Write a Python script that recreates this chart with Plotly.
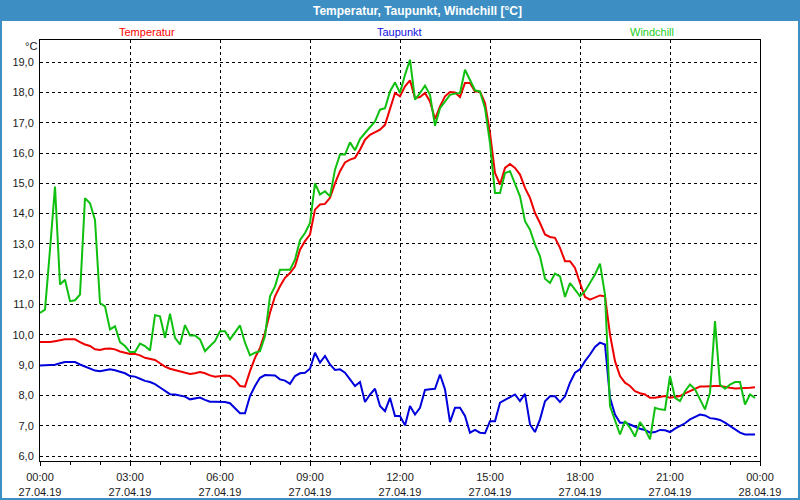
import pandas as pd
import plotly.graph_objects as go

# ---- data (10-minute readings, 27.04.19 00:00 .. 23:50) ----
start_time = "2019-04-27 00:00"
n_points = 144
step = "10min"

temperatur = [
    9.76, 9.76, 9.76, 9.79, 9.82, 9.85, 9.85, 9.85, 9.76, 9.68, 9.63, 9.52,
    9.50, 9.54, 9.55, 9.52, 9.45, 9.41, 9.37, 9.37, 9.32, 9.24, 9.21, 9.17,
    9.06, 8.95, 8.88, 8.84, 8.80, 8.75, 8.71, 8.73, 8.77, 8.73, 8.66, 8.62,
    8.64, 8.66, 8.64, 8.51, 8.31, 8.29, 8.80, 9.24, 9.57, 10.07, 10.73, 11.27,
    11.60, 11.88, 12.04, 12.26, 12.81, 13.09, 13.31, 14.13, 14.30, 14.32, 14.52, 15.00,
    15.40, 15.69, 15.78, 15.84, 16.11, 16.44, 16.60, 16.68, 16.77, 16.93, 17.43, 17.98,
    17.87, 18.20, 18.40, 17.81, 17.85, 17.98, 17.70, 17.12, 17.54, 17.87, 18.01, 18.00,
    17.85, 18.31, 18.31, 18.03, 18.03, 17.65, 16.66, 15.34, 14.96, 15.51, 15.64, 15.51,
    15.29, 14.85, 14.52, 14.02, 13.69, 13.31, 13.23, 13.20, 12.87, 12.43, 12.43, 12.21,
    11.71, 11.25, 11.16, 11.22, 11.30, 11.27, 10.01, 9.13, 8.64, 8.42, 8.31, 8.14,
    8.07, 8.03, 7.92, 7.92, 7.96, 7.98, 7.92, 7.96, 7.98, 8.07, 8.14, 8.20,
    8.29, 8.29, 8.31, 8.31, 8.31, 8.27, 8.25, 8.23, 8.23, 8.25, 8.25, 8.27,
]

taupunkt = [
    8.99, 8.99, 8.99, 9.01, 9.06, 9.10, 9.10, 9.10, 9.02, 8.95, 8.88, 8.82,
    8.80, 8.84, 8.86, 8.83, 8.78, 8.73, 8.64, 8.62, 8.55, 8.48, 8.44, 8.37,
    8.26, 8.15, 8.04, 8.03, 8.00, 7.96, 7.87, 7.89, 7.93, 7.85, 7.79, 7.79,
    7.78, 7.78, 7.74, 7.56, 7.41, 7.41, 7.98, 8.31, 8.58, 8.67, 8.67, 8.66,
    8.53, 8.49, 8.38, 8.64, 8.73, 8.75, 8.88, 9.41, 9.08, 9.30, 9.02, 8.84,
    8.86, 8.75, 8.53, 8.31, 8.44, 7.78, 8.03, 8.22, 7.65, 7.48, 7.92, 7.32,
    7.32, 7.01, 7.65, 7.37, 7.59, 8.18, 8.20, 8.22, 8.69, 8.20, 7.12, 7.59,
    7.59, 7.32, 6.77, 6.86, 6.77, 6.75, 7.15, 7.15, 7.76, 7.85, 7.92, 8.03,
    7.81, 8.05, 7.04, 6.79, 7.21, 7.81, 7.97, 7.97, 7.78, 7.97, 8.42, 8.75,
    8.86, 9.13, 9.35, 9.60, 9.74, 9.68, 7.92, 7.37, 7.10, 7.10, 7.04, 6.97,
    6.90, 6.86, 6.77, 6.79, 6.86, 6.85, 6.79, 6.90, 6.99, 7.08, 7.21, 7.30,
    7.37, 7.34, 7.25, 7.23, 7.19, 7.10, 6.99, 6.86, 6.77, 6.71, 6.71, 6.71,
]

windchill = [
    10.72, 10.83, 12.81, 14.89, 11.66, 11.82, 11.11, 11.14, 11.33, 14.51, 14.34, 13.79,
    11.05, 10.94, 10.18, 10.28, 9.76, 9.63, 9.43, 9.43, 9.71, 9.63, 9.48, 10.65,
    10.61, 9.90, 10.70, 9.90, 9.68, 10.32, 9.98, 9.98, 9.85, 9.46, 9.63, 9.79,
    10.12, 10.12, 9.85, 10.07, 10.31, 9.74, 9.32, 9.41, 9.46, 9.96, 11.27, 11.60,
    12.15, 12.15, 12.15, 12.48, 13.12, 13.36, 13.69, 15.00, 14.63, 14.74, 14.57, 15.45,
    15.95, 15.95, 16.35, 16.09, 16.46, 16.66, 16.86, 17.04, 17.43, 17.48, 18.03, 18.33,
    17.98, 18.58, 19.08, 17.76, 17.98, 18.22, 17.92, 16.90, 17.48, 17.70, 17.92, 17.96,
    17.98, 18.75, 18.42, 18.07, 18.03, 17.48, 16.33, 14.68, 14.68, 15.34, 15.40, 15.00,
    14.57, 13.75, 13.47, 12.98, 12.59, 11.85, 11.71, 12.02, 11.93, 11.25, 11.71, 11.49,
    11.27, 11.44, 11.71, 11.99, 12.35, 11.33, 7.65, 7.21, 6.71, 7.15, 6.93, 6.64,
    7.12, 6.88, 6.55, 7.59, 7.54, 7.52, 8.64, 7.92, 7.81, 8.14, 8.36, 8.20,
    7.87, 7.54, 8.09, 10.45, 8.36, 8.22, 8.36, 8.44, 8.44, 7.70, 8.03, 7.92,
]

series_names = ["Temperatur", "Taupunkt", "Windchill"]
series_colors = ["#ee0000", "#0000dd", "#10c010"]
label_colors = ["#ff0000", "#1010e0", "#22cc22"]

title_text = "Temperatur, Taupunkt, Windchill [°C]"
unit_text = "°C"
x_start, x_end = "2019-04-27 00:00", "2019-04-28 00:00"
y_min, y_max = 5.835, 19.73

# ---- layout geometry (pixels) ----
W, H = 800, 500
L, R, T, B = 40, 40, 40, 39
PW, PH = W - L - R, H - T - B


def xp(px):
    return (px - L) / PW


def yp(py):
    return (H - B - py) / PH


times = pd.date_range(start_time, periods=n_points, freq=step)

fig = go.Figure()
for name, vals, col in zip(series_names, [temperatur, taupunkt, windchill], series_colors):
    fig.add_trace(go.Scatter(x=times, y=vals, mode="lines", name=name,
                             line=dict(color=col, width=2), showlegend=False))

FONT = "Liberation Sans, Arial, sans-serif"
BLUE = "#3d8fc3"
GRID = dict(showgrid=True, gridcolor="#000000", gridwidth=1, griddash="3px,3px")

fig.update_layout(
    width=W, height=H,
    margin=dict(l=L, r=R, t=T, b=B, pad=0, autoexpand=False),
    paper_bgcolor="#ffffff", plot_bgcolor="#ffffff",
    separators=",.",
    font=dict(family=FONT, size=11, color="#1a1a1a"),
    xaxis=dict(
        type="date", range=[x_start, x_end], automargin=False,
        tick0=x_start, dtick=3 * 3600 * 1000,
        tickformat="%H:%M<br>%d.%m.%y",
        ticks="outside", ticklen=4, tickcolor="#000000",
        minor=dict(dtick=3600 * 1000, ticks="outside", ticklen=3, tickcolor="#000000", showgrid=False),
        showline=True, linecolor="#000000", linewidth=1, mirror=True,
        zeroline=False, ticklabelstandoff=2,
        **GRID,
    ),
    yaxis=dict(
        range=[y_min, y_max], tick0=6, dtick=1, tickformat=".1f", automargin=False,
        ticks="", showline=True, linecolor="#000000", linewidth=1, mirror=True,
        zeroline=False, ticklabelstandoff=3,
        **GRID,
    ),
)

shapes = [
    # title bar
    dict(type="rect", xref="paper", yref="paper", x0=xp(0), x1=xp(W), y0=yp(21), y1=yp(0),
         fillcolor=BLUE, line=dict(width=0), layer="above"),
    # frame borders
    dict(type="rect", xref="paper", yref="paper", x0=xp(0), x1=xp(2), y0=yp(H), y1=yp(0),
         fillcolor=BLUE, line=dict(width=0), layer="above"),
    dict(type="rect", xref="paper", yref="paper", x0=xp(W - 2), x1=xp(W), y0=yp(H), y1=yp(0),
         fillcolor=BLUE, line=dict(width=0), layer="above"),
    dict(type="rect", xref="paper", yref="paper", x0=xp(0), x1=xp(W), y0=yp(H), y1=yp(H - 2),
         fillcolor=BLUE, line=dict(width=0), layer="above"),
]
fig.update_layout(shapes=shapes)

annotations = [
    dict(text="<b>" + title_text + "</b>", x=xp(417), y=yp(11), xref="paper", yref="paper",
         showarrow=False, xanchor="center", yanchor="middle",
         font=dict(family=FONT, size=12, color="#ffffff")),
    dict(text=unit_text, x=xp(30.5), y=yp(46), xref="paper", yref="paper",
         showarrow=False, xanchor="center", yanchor="middle",
         font=dict(family=FONT, size=11, color="#1a1a1a")),
]
label_x = [147, 399, 652]
for name, col, lx in zip(series_names, label_colors, label_x):
    annotations.append(dict(text=name, x=xp(lx), y=yp(32), xref="paper", yref="paper",
                            showarrow=False, xanchor="center", yanchor="middle",
                            font=dict(family=FONT, size=11, color=col)))
fig.update_layout(annotations=annotations)

fig.write_html("out.html")
